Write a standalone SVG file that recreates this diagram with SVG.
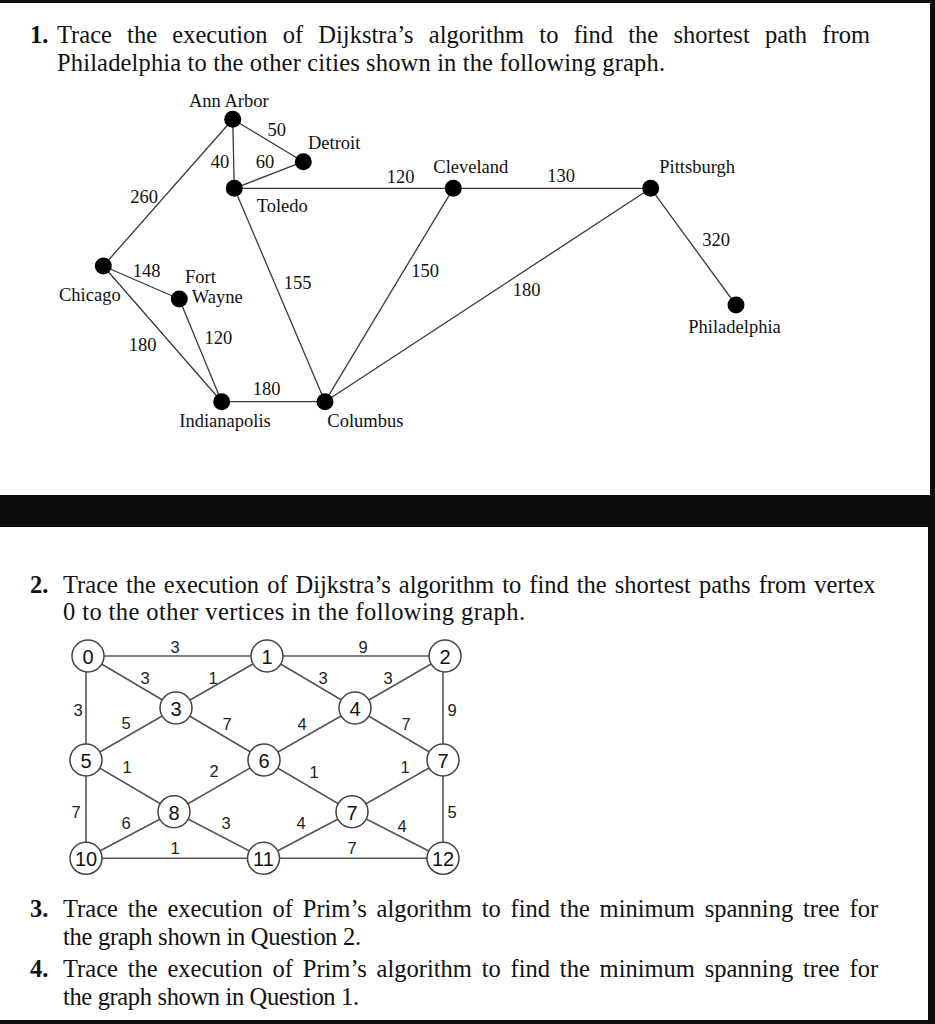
<svg xmlns="http://www.w3.org/2000/svg" width="935" height="1024" viewBox="0 0 935 1024">
<style>
.q{font-family:"Liberation Serif","Times New Roman",serif;font-size:24.5px;fill:#111}
.qn{font-family:"Liberation Serif","Times New Roman",serif;font-size:24.5px;font-weight:bold;fill:#111}
.city{font-family:"Liberation Serif","Times New Roman",serif;font-size:18.5px;fill:#111}
.w{font-family:"Liberation Serif","Times New Roman",serif;font-size:18.5px;fill:#111;text-anchor:middle}
.e1{stroke:#3a3a3a;stroke-width:1.3;fill:none}
.e2{stroke:#555;stroke-width:1.6;fill:none}
.dot{fill:#000}
.vc{fill:#fff;stroke:#444;stroke-width:1.5}
.vt{font-family:"Liberation Sans",Arial,sans-serif;font-size:20px;fill:#111;text-anchor:middle;dominant-baseline:central}
.el{font-family:"Liberation Sans",Arial,sans-serif;font-size:16.5px;fill:#222;text-anchor:middle;dominant-baseline:central}
</style>
<rect x="0" y="0" width="935" height="1024" fill="#fff"/>
<!-- frame -->
<rect x="0" y="0" width="935" height="3" fill="#0d0d0d"/>
<rect x="930" y="0" width="5" height="495" fill="#0d0d0d"/>
<rect x="0" y="495" width="935" height="32" fill="#0d0d0d"/>
<rect x="928" y="527" width="7" height="497" fill="#0d0d0d"/>
<rect x="0" y="1020" width="935" height="4" fill="#0d0d0d"/>

<!-- Question texts -->
<g id="q1-text">
<text class="qn" x="30" y="43">1.</text>
<text class="q" x="57" y="43" word-spacing="9.1">Trace the execution of Dijkstra’s algorithm to find the shortest path from</text>
<text class="q" x="57" y="71" textLength="608" lengthAdjust="spacing">Philadelphia to the other cities shown in the following graph.</text>
</g>
<g id="q2-text">
<text class="qn" x="30" y="593">2.</text>
<text class="q" x="63" y="593" word-spacing="1.9">Trace the execution of Dijkstra’s algorithm to find the shortest paths from vertex</text>
<text class="q" x="63" y="620" textLength="462" lengthAdjust="spacing">0 to the other vertices in the following graph.</text>
</g>
<g id="q3-text">
<text class="qn" x="30" y="917">3.</text>
<text class="q" x="63" y="917" word-spacing="3.7">Trace the execution of Prim’s algorithm to find the minimum spanning tree for</text>
<text class="q" x="63" y="945" textLength="298" lengthAdjust="spacing">the graph shown in Question 2.</text>
</g>
<g id="q4-text">
<text class="qn" x="30" y="977">4.</text>
<text class="q" x="63" y="977" word-spacing="3.7">Trace the execution of Prim’s algorithm to find the minimum spanning tree for</text>
<text class="q" x="63" y="1005" textLength="296" lengthAdjust="spacing">the graph shown in Question 1.</text>
</g>

<!-- Graph 1 connectors -->
<g id="connectors-g1">
<line class="e1" x1="232.7" y1="119.3" x2="303.3" y2="161.7"/>
<line class="e1" x1="232.7" y1="119.3" x2="234.3" y2="188.3"/>
<line class="e1" x1="232.7" y1="119.3" x2="103.3" y2="266"/>
<line class="e1" x1="303.3" y1="161.7" x2="234.3" y2="188.3"/>
<line class="e1" x1="234.3" y1="188.3" x2="453.3" y2="188.3"/>
<line class="e1" x1="234.3" y1="188.3" x2="325" y2="401.7"/>
<line class="e1" x1="453.3" y1="188.3" x2="650.7" y2="188.3"/>
<line class="e1" x1="453.3" y1="188.3" x2="325" y2="401.7"/>
<line class="e1" x1="650.7" y1="188.3" x2="325" y2="401.7"/>
<line class="e1" x1="650.7" y1="188.3" x2="736" y2="305"/>
<line class="e1" x1="103.3" y1="266" x2="179.3" y2="299"/>
<line class="e1" x1="103.3" y1="266" x2="221.7" y2="401.7"/>
<line class="e1" x1="179.3" y1="299" x2="221.7" y2="401.7"/>
<line class="e1" x1="221.7" y1="401.7" x2="325" y2="401.7"/>
<text class="w" x="276.7" y="136">50</text>
<text class="w" x="220" y="168.3">40</text>
<text class="w" x="265" y="168.3">60</text>
<text class="w" x="144" y="202.7">260</text>
<text class="w" x="400.7" y="182.7">120</text>
<text class="w" x="561" y="181.7">130</text>
<text class="w" x="716" y="246">320</text>
<text class="w" x="146.7" y="276.7">148</text>
<text class="w" x="297.7" y="289.3">155</text>
<text class="w" x="425" y="276.7">150</text>
<text class="w" x="526.7" y="296">180</text>
<text class="w" x="142.7" y="350.7">180</text>
<text class="w" x="218.3" y="344">120</text>
<text class="w" x="266.7" y="395">180</text>
</g>

<!-- Graph 1 nodes -->
<g id="ann-arbor"><circle class="dot" cx="232.7" cy="119.3" r="8.5"/><text class="city" x="189" y="107">Ann Arbor</text></g>
<g id="detroit"><circle class="dot" cx="303.3" cy="161.7" r="8.5"/><text class="city" x="308" y="149.3">Detroit</text></g>
<g id="toledo"><circle class="dot" cx="234.3" cy="188.3" r="8.5"/><text class="city" x="256.7" y="211.7">Toledo</text></g>
<g id="cleveland"><circle class="dot" cx="453.3" cy="188.3" r="8.5"/><text class="city" x="433.3" y="173.3">Cleveland</text></g>
<g id="pittsburgh"><circle class="dot" cx="650.7" cy="188.3" r="8.5"/><text class="city" x="659.3" y="173.3">Pittsburgh</text></g>
<g id="philadelphia"><circle class="dot" cx="736" cy="305" r="8.5"/><text class="city" x="688.3" y="333.3">Philadelphia</text></g>
<g id="chicago"><circle class="dot" cx="103.3" cy="266" r="8.5"/><text class="city" x="59" y="300.7">Chicago</text></g>
<g id="fort-wayne"><circle class="dot" cx="179.3" cy="299" r="8.5"/><text class="city" x="185" y="282.7">Fort</text><text class="city" x="191.7" y="303.3">Wayne</text></g>
<g id="indianapolis"><circle class="dot" cx="221.7" cy="401.7" r="8.5"/><text class="city" x="179.3" y="426.7">Indianapolis</text></g>
<g id="columbus"><circle class="dot" cx="325" cy="401.7" r="8.5"/><text class="city" x="327.3" y="426.7">Columbus</text></g>

<!-- Graph 2 connectors -->
<g id="connectors-g2">
<line class="e2" x1="88" y1="656" x2="267" y2="656"/>
<line class="e2" x1="267" y1="656" x2="445" y2="656"/>
<line class="e2" x1="88" y1="656" x2="176" y2="708"/>
<line class="e2" x1="176" y1="708" x2="267" y2="656"/>
<line class="e2" x1="267" y1="656" x2="355" y2="708"/>
<line class="e2" x1="355" y1="708" x2="445" y2="656"/>
<line class="e2" x1="86" y1="656" x2="86" y2="760"/>
<line class="e2" x1="443" y1="656" x2="443" y2="760"/>
<line class="e2" x1="86" y1="760" x2="176" y2="708"/>
<line class="e2" x1="176" y1="708" x2="264" y2="760"/>
<line class="e2" x1="264" y1="760" x2="355" y2="708"/>
<line class="e2" x1="355" y1="708" x2="443" y2="760"/>
<line class="e2" x1="86" y1="760" x2="174" y2="811.7"/>
<line class="e2" x1="174" y1="811.7" x2="264" y2="760"/>
<line class="e2" x1="264" y1="760" x2="352" y2="811.7"/>
<line class="e2" x1="352" y1="811.7" x2="443" y2="760"/>
<line class="e2" x1="86" y1="760" x2="86" y2="858.3"/>
<line class="e2" x1="443" y1="760" x2="443" y2="858.3"/>
<line class="e2" x1="86" y1="858.3" x2="174" y2="811.7"/>
<line class="e2" x1="174" y1="811.7" x2="263.5" y2="858.3"/>
<line class="e2" x1="263.5" y1="858.3" x2="352" y2="811.7"/>
<line class="e2" x1="352" y1="811.7" x2="443" y2="858.3"/>
<line class="e2" x1="86" y1="858.3" x2="263.5" y2="858.3"/>
<line class="e2" x1="263.5" y1="858.3" x2="443" y2="858.3"/>
<text class="el" x="175" y="647">3</text>
<text class="el" x="363" y="647">9</text>
<text class="el" x="145" y="678">3</text>
<text class="el" x="213" y="678">1</text>
<text class="el" x="323" y="678">3</text>
<text class="el" x="388" y="678">3</text>
<text class="el" x="78" y="710">3</text>
<text class="el" x="126" y="723">5</text>
<text class="el" x="227" y="724">7</text>
<text class="el" x="302" y="724">4</text>
<text class="el" x="406" y="724">7</text>
<text class="el" x="452" y="710">9</text>
<text class="el" x="127" y="767">1</text>
<text class="el" x="214" y="771">2</text>
<text class="el" x="314" y="772">1</text>
<text class="el" x="405" y="767">1</text>
<text class="el" x="76" y="812">7</text>
<text class="el" x="126" y="823">6</text>
<text class="el" x="226" y="823">3</text>
<text class="el" x="301" y="823">4</text>
<text class="el" x="402" y="826">4</text>
<text class="el" x="452" y="812">5</text>
<text class="el" x="175" y="848">1</text>
<text class="el" x="352" y="848">7</text>
</g>

<!-- Graph 2 nodes -->
<g id="v0"><circle class="vc" cx="88" cy="656" r="16"/><text class="vt" x="88" y="657">0</text></g>
<g id="v1"><circle class="vc" cx="267" cy="656" r="16"/><text class="vt" x="267" y="657">1</text></g>
<g id="v2"><circle class="vc" cx="445" cy="656" r="16"/><text class="vt" x="445" y="657">2</text></g>
<g id="v3"><circle class="vc" cx="176" cy="708" r="16"/><text class="vt" x="176" y="709">3</text></g>
<g id="v4"><circle class="vc" cx="355" cy="708" r="16"/><text class="vt" x="355" y="709">4</text></g>
<g id="v5"><circle class="vc" cx="86" cy="760" r="16"/><text class="vt" x="86" y="761">5</text></g>
<g id="v6"><circle class="vc" cx="264" cy="760" r="16"/><text class="vt" x="264" y="761">6</text></g>
<g id="v7a"><circle class="vc" cx="443" cy="760" r="16"/><text class="vt" x="443" y="761">7</text></g>
<g id="v8"><circle class="vc" cx="174" cy="811.7" r="16"/><text class="vt" x="174" y="812.7">8</text></g>
<g id="v7b"><circle class="vc" cx="352" cy="811.7" r="16"/><text class="vt" x="352" y="812.7">7</text></g>
<g id="v10"><circle class="vc" cx="86" cy="858.3" r="16"/><text class="vt" x="86" y="859.3">10</text></g>
<g id="v11"><circle class="vc" cx="263.5" cy="858.3" r="16"/><text class="vt" x="263.5" y="859.3">11</text></g>
<g id="v12"><circle class="vc" cx="443" cy="858.3" r="16"/><text class="vt" x="443" y="859.3">12</text></g>
</svg>
